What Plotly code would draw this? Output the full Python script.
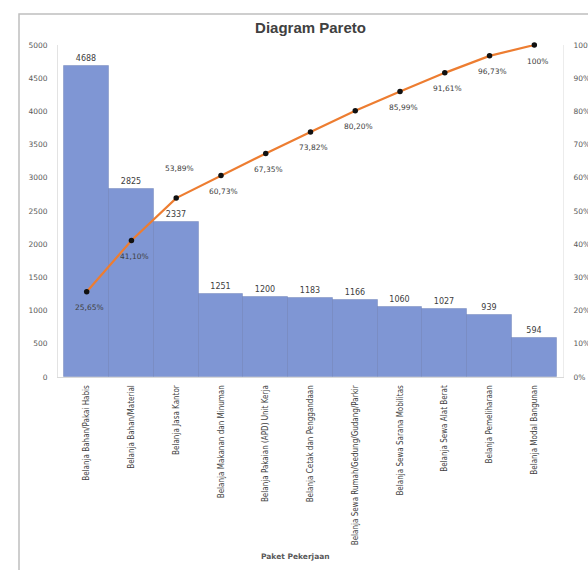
import plotly.graph_objects as go

# Pareto data: spending categories, counts and cumulative share
categories = [
    "Belanja Bahan/Pakai Habis",
    "Belanja Bahan/Material",
    "Belanja Jasa Kantor",
    "Belanja Makanan dan Minuman",
    "Belanja Pakaian (APD) Unit Kerja",
    "Belanja Cetak dan Penggandaan",
    "Belanja Sewa Rumah/Gedung/Gudang/Parkir",
    "Belanja Sewa Sarana Mobilitas",
    "Belanja Sewa Alat Berat",
    "Belanja Pemeliharaan",
    "Belanja Modal Bangunan",
]
counts = [4688, 2825, 2337, 1251, 1200, 1183, 1166, 1060, 1027, 939, 594]
cumulative_pct = [25.65, 41.10, 53.89, 60.73, 67.35, 73.82, 80.20, 85.99, 91.61, 96.73, 100]
pct_labels = ["25,65%", "41,10%", "53,89%", "60,73%", "67,35%", "73,82%",
              "80,20%", "85,99%", "91,61%", "96,73%", "100%"]
left_ticks = [0, 500, 1000, 1500, 2000, 2500, 3000, 3500, 4000, 4500, 5000]
right_ticks = [0, 10, 20, 30, 40, 50, 60, 70, 80, 90, 100]

BASE_FONT = "DejaVu Sans, Liberation Sans, sans-serif"
TITLE_FONT = "Liberation Sans, Arial, sans-serif"
NARROW_FONT = "Liberation Sans Narrow, DejaVu Sans Condensed, sans-serif"
TEXT_GRAY = "#404040"

W, H = 588, 570

fig = go.Figure()

fig.add_trace(go.Bar(
    x=categories,
    y=counts,
    text=[str(v) for v in counts],
    textposition="outside",
    textfont=dict(size=8, color=TEXT_GRAY, family=BASE_FONT),
    marker=dict(color="#7f96d4", line=dict(color="rgba(90,110,170,0.35)", width=1)),
    cliponaxis=False,
    showlegend=False,
))

fig.add_trace(go.Scatter(
    x=categories,
    y=cumulative_pct,
    yaxis="y2",
    mode="lines+markers",
    line=dict(color="#ED7D31", width=2.2),
    marker=dict(color="#111111", size=5.5),
    cliponaxis=False,
    showlegend=False,
))

# cumulative percentage labels under each point (third one sits above)
for i, (cat, pct, lab) in enumerate(zip(categories, cumulative_pct, pct_labels)):
    above = i == 2
    fig.add_annotation(
        x=cat, y=pct, yref="y2", text=lab, showarrow=False,
        yshift=30 if above else -16, xshift=3,
        font=dict(size=7.5, color=TEXT_GRAY, family=BASE_FONT),
    )

fig.update_layout(
    width=W, height=H,
    margin=dict(l=58, r=25, t=45, b=193, autoexpand=False),
    paper_bgcolor="white",
    plot_bgcolor="white",
    bargap=0,
    title=dict(
        text="<b>Diagram Pareto</b>",
        x=0.5, xref="paper", xanchor="center",
        y=1 - 28 / H, yref="container", yanchor="middle",
        font=dict(size=15, color="#404040", family=TITLE_FONT),
    ),
    xaxis=dict(
        tickangle=-90,
        tickfont=dict(size=8, color=TEXT_GRAY, family=NARROW_FONT),
        showgrid=False, automargin=False,
        showline=True, linecolor="#d9d9d9",
        ticks="", ticklabelstandoff=4,
    ),
    yaxis=dict(
        range=[0, 5000],
        tickvals=left_ticks,
        tickfont=dict(size=7.5, color="#595959", family=BASE_FONT),
        showgrid=False, zeroline=False, automargin=False,
        showline=True, linecolor="#e3e3e3",
        ticks="", ticklabelstandoff=8,
    ),
    yaxis2=dict(
        range=[0, 100],
        overlaying="y", side="right",
        tickvals=right_ticks,
        ticktext=[f"{t}%" for t in right_ticks],
        tickfont=dict(size=7.5, color="#595959", family=BASE_FONT),
        showgrid=False, zeroline=False, automargin=False,
        showline=True, linecolor="#ececec",
        ticks="", ticklabelstandoff=8,
    ),
    font=dict(family=BASE_FONT),
)

# axis title for the categories
fig.add_annotation(
    x=(295 - 58) / 505, y=-(563 - 377) / 332, xref="paper", yref="paper",
    text="<b>Paket Pekerjaan</b>", showarrow=False,
    font=dict(size=7.5, color="#595959", family=BASE_FONT),
)

# chart area frame
fig.add_shape(
    type="rect", xref="paper", yref="paper",
    x0=(19 - 58) / 505, x1=(600 - 58) / 505,
    y0=(377 - 580) / 332, y1=(377 - 14) / 332,
    line=dict(color="#bfbfbf", width=1.5), fillcolor="rgba(0,0,0,0)",
    layer="below",
)

fig.write_html("out.html")
